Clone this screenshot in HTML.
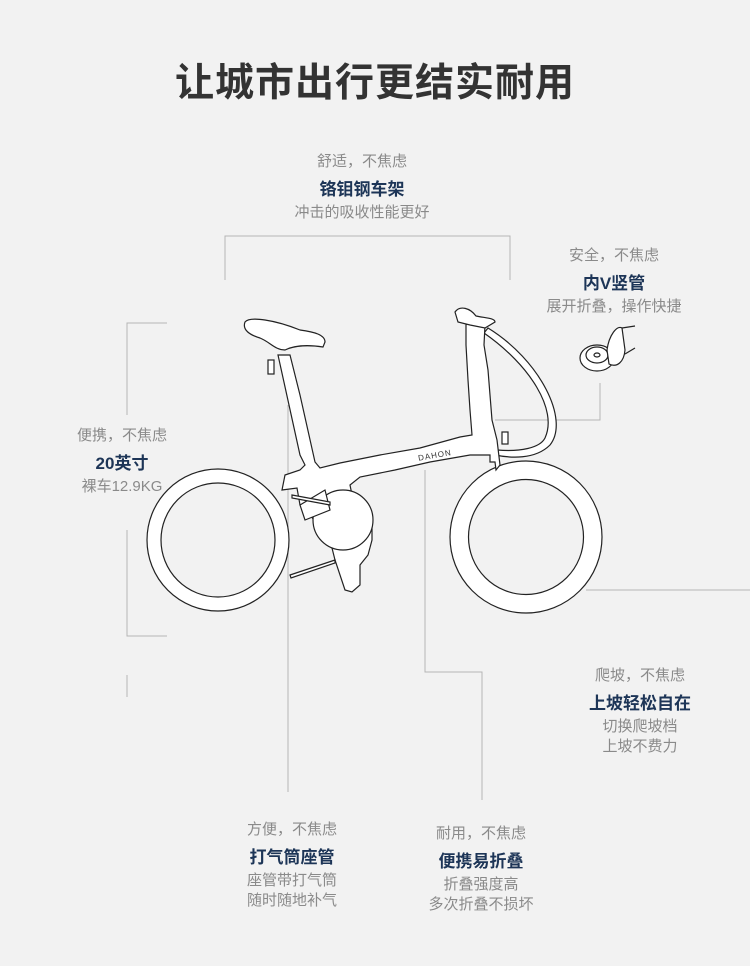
<!DOCTYPE html>
<html><head><meta charset="utf-8"><style>
html,body{margin:0;padding:0}
body{width:750px;height:966px;background:#f2f2f2;position:relative;overflow:hidden;font-family:"Liberation Sans","Noto Sans CJK SC",sans-serif}
.t{position:absolute;text-align:center;white-space:nowrap;transform:translateX(-50%)}
.g{color:#8a8a8a;font-size:15px}
.b{color:#1d3557;font-size:17px;font-weight:bold}
h1{position:absolute;left:0;width:750px;top:52px;margin:0;text-align:center;font-size:39px;font-weight:bold;color:#333;letter-spacing:1px;font-family:"Liberation Sans","Noto Sans CJK SC",sans-serif}
svg{position:absolute;left:0;top:0}
</style></head><body>
<h1>让城市出行更结实耐用</h1>
<svg width="750" height="966" viewBox="0 0 750 966">
<g stroke="#b5b5b5" stroke-width="1" fill="none">
<polyline points="225,280 225,236 510,236 510,280"/>
<polyline points="167,323 127,323 127,415"/>
<polyline points="127,530 127,636 167,636"/>
<line x1="127" y1="675" x2="127" y2="697"/>
<line x1="288" y1="405" x2="288" y2="792"/>
<polyline points="425,470 425,672 482,672 482,800"/>
<polyline points="495,420 600,420 600,383"/>
<line x1="586" y1="590" x2="750" y2="590"/>
</g>
<g stroke="#222" stroke-width="1.2" fill="#fff">
<circle cx="218" cy="540" r="71"/>
<circle cx="218" cy="540" r="57" fill="#f2f2f2"/>
<circle cx="526" cy="537" r="76"/>
<circle cx="526" cy="537" r="57.5" fill="#f2f2f2"/>
<path d="M488,328 C540,360 570,420 550,445 C535,460 510,458 495,455 L497,450 C520,452 540,448 545,438 C558,410 530,365 484,333 Z"/>
<path d="M285,355 L278,355 L300,455 L305,465 L300,470 L285,475 L282,490 L297,488 L300,505 L310,515 L330,540 L335,560 L345,590 L352,592 L360,585 L360,565 L368,555 L372,540 L372,515 L360,500 L352,495 L350,485 L360,477 L395,470 L430,462 L470,455 L490,455 L490,462 L495,462 L496,470 L500,465 L497,440 L492,420 L490,395 L488,370 L484,345 L485,325 L478,318 L470,320 L466,325 L466,345 L468,380 L470,410 L472,435 L460,437 L420,448 L380,455 L340,463 L320,468 L315,462 L300,395 L290,355 Z"/>
<circle cx="343" cy="520" r="30"/>
<path d="M300,505 L325,490 L330,510 L305,520 Z"/>
<path d="M245,322 C250,316 275,320 300,330 C315,332 325,335 325,342 L323,347 C310,345 295,345 285,350 C275,350 270,342 260,338 C250,335 242,330 245,322 Z"/>
<rect x="268" y="360" width="6" height="14"/>
<path d="M455,312 C460,305 470,308 476,316 C485,318 495,318 495,322 L485,328 L470,325 L458,322 Z"/>
<rect x="502" y="432" width="6" height="12"/>
<path d="M292,495 L330,502 L330,505 L292,498 Z"/>
<path d="M290,575 L335,560 L335,563 L291,578 Z"/>
<g transform="translate(597,350)">
<ellipse cx="0" cy="8" rx="17" ry="13"/>
<ellipse cx="0" cy="5" rx="11" ry="8" fill="none"/>
<ellipse cx="0" cy="5" rx="3" ry="2" fill="none"/>
<path d="M10,0 C12,-15 20,-25 25,-22 L28,0 C27,12 20,18 12,14 Z"/>
<path d="M25,-22 L38,-24 M28,4 L38,-2" fill="none"/>
</g>
</g>
<text x="418" y="457" font-size="8" fill="#333" font-family="Liberation Sans" transform="rotate(-10 440 455)" letter-spacing="1">DAHON</text>
</svg>
<div class="t g" style="left:362px;top:150px">舒适，不焦虑</div>
<div class="t b" style="left:362px;top:175px">铬钼钢车架</div>
<div class="t g" style="left:362px;top:201px">冲击的吸收性能更好</div>
<div class="t g" style="left:614px;top:244px">安全，不焦虑</div>
<div class="t b" style="left:614px;top:269px">内V竖管</div>
<div class="t g" style="left:614px;top:295px">展开折叠，操作快捷</div>
<div class="t g" style="left:122px;top:424px">便携，不焦虑</div>
<div class="t b" style="left:122px;top:449px">20英寸</div>
<div class="t g" style="left:122px;top:475px">裸车12.9KG</div>
<div class="t g" style="left:640px;top:664px">爬坡，不焦虑</div>
<div class="t b" style="left:640px;top:689px">上坡轻松自在</div>
<div class="t g" style="left:640px;top:715px">切换爬坡档</div>
<div class="t g" style="left:640px;top:735px">上坡不费力</div>
<div class="t g" style="left:292px;top:818px">方便，不焦虑</div>
<div class="t b" style="left:292px;top:843px">打气筒座管</div>
<div class="t g" style="left:292px;top:869px">座管带打气筒</div>
<div class="t g" style="left:292px;top:889px">随时随地补气</div>
<div class="t g" style="left:481px;top:822px">耐用，不焦虑</div>
<div class="t b" style="left:481px;top:847px">便携易折叠</div>
<div class="t g" style="left:481px;top:873px">折叠强度高</div>
<div class="t g" style="left:481px;top:893px">多次折叠不损坏</div>
</body></html>
